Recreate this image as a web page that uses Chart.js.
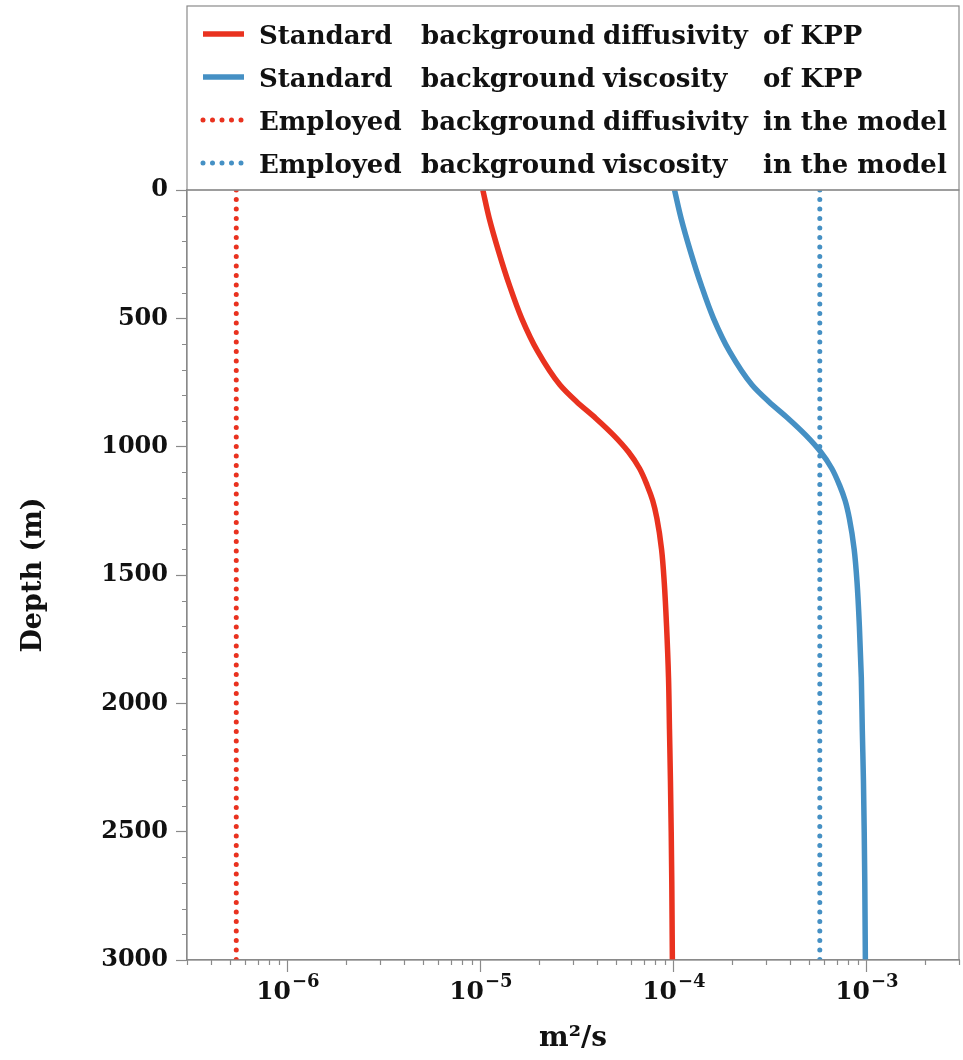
<!DOCTYPE html>
<html>
<head>
<meta charset="utf-8">
<script src="https://cdn.jsdelivr.net/npm/chart.js@4.4.0/dist/chart.umd.min.js"></script>
<style>
  html, body { margin: 0; padding: 0; background: #fff; }
  canvas { display: block; }
</style>
</head>
<body>
<canvas id="chart" width="963" height="1060"></canvas>
<script>
// depth (m) and background profiles
const DEPTH = [0, 110, 240, 370, 500, 630, 760, 825, 890, 955, 1020, 1085, 1150, 1210, 1280, 1400, 1530, 1700, 1900, 2100, 2300, 2500, 2700, 2900, 3000];
const KPP_DIFF = [1.023e-5, 1.104e-5, 1.236e-5, 1.403e-5, 1.626e-5, 1.972e-5, 2.570e-5, 3.133e-5, 3.945e-5, 4.864e-5, 5.808e-5, 6.637e-5, 7.261e-5, 7.762e-5, 8.166e-5, 8.630e-5, 8.913e-5, 9.162e-5, 9.376e-5, 9.484e-5, 9.594e-5, 9.683e-5, 9.750e-5, 9.795e-5, 9.817e-5];
const KPP_VISC = [1.007e-4, 1.089e-4, 1.219e-4, 1.384e-4, 1.603e-4, 1.945e-4, 2.541e-4, 3.105e-4, 3.908e-4, 4.820e-4, 5.754e-4, 6.577e-4, 7.211e-4, 7.709e-4, 8.110e-4, 8.590e-4, 8.892e-4, 9.141e-4, 9.354e-4, 9.462e-4, 9.594e-4, 9.683e-4, 9.750e-4, 9.795e-4, 9.817e-4];
const MODEL_DEPTH = [0, 3000];
const MODEL_DIFF = [5.4e-7, 5.4e-7];
const MODEL_VISC = [5.7e-4, 5.7e-4];

const Y_TICKS = [0, 500, 1000, 1500, 2000, 2500, 3000];
const X_TICKS = [1e-6, 1e-5, 1e-4, 1e-3];
const X_EXP = ["\u22126", "\u22125", "\u22124", "\u22123"];
const LEGEND_WORDS = [
  ["Standard", "background", "diffusivity", "of KPP"],
  ["Standard", "background", "viscosity", "of KPP"],
  ["Employed", "background", "diffusivity", "in the model"],
  ["Employed", "background", "viscosity", "in the model"],
];

const RED = "#e9321f";
const BLUE = "#4590c4";
const AXIS = "#8a8a8a";
const FONT = '"DejaVu Serif", "Liberation Serif", serif';

const pts = (xs, ys) => xs.map((x, i) => ({ x, y: ys[i] }));

// frame, minor ticks, 10^n labels and the boxed legend above the plot
const decorations = {
  id: "decorations",
  afterDraw(chart) {
    const { ctx, chartArea: { left, right, top, bottom } } = chart;
    const xs = chart.scales.x, ys = chart.scales.y;
    ctx.save();
    ctx.strokeStyle = AXIS;
    ctx.lineWidth = 1.2;
    ctx.strokeRect(left, top, right - left, bottom - top);

    ctx.beginPath();
    for (let v = 100; v < 3000; v += 100) {
      if (v % 500 === 0) continue;
      const py = Math.round(ys.getPixelForValue(v)) + 0.5;
      ctx.moveTo(left - 5, py); ctx.lineTo(left, py);
    }
    for (let n = -7; n <= -3; n++) {
      for (let k = 2; k <= 9; k++) {
        const v = k * Math.pow(10, n);
        if (v < xs.min || v > xs.max) continue;
        const px = Math.round(xs.getPixelForValue(v)) + 0.5;
        ctx.moveTo(px, bottom); ctx.lineTo(px, bottom + 5);
      }
    }
    ctx.stroke();

    // x tick labels as 10 with raised exponent
    ctx.fillStyle = "#111";
    ctx.textAlign = "left";
    ctx.textBaseline = "alphabetic";
    X_TICKS.forEach((v, i) => {
      const px = xs.getPixelForValue(v);
      ctx.font = "bold 25px " + FONT;
      const wb = ctx.measureText("10").width;
      ctx.font = "bold 18px " + FONT;
      const we = ctx.measureText(X_EXP[i]).width;
      const x0 = px - (wb + we + 1) / 2;
      ctx.font = "bold 25px " + FONT;
      ctx.fillText("10", x0, 999);
      ctx.font = "bold 18px " + FONT;
      ctx.fillText(X_EXP[i], x0 + wb + 1, 987);
    });

    // legend box
    ctx.strokeStyle = AXIS;
    ctx.lineWidth = 1.2;
    ctx.strokeRect(left, 6, right - left, top - 6);
    const cols = [72, 234, 416, 576];
    chart.data.datasets.forEach((ds, i) => {
      const y = 34 + i * 43;
      ctx.strokeStyle = ds.borderColor;
      ctx.lineWidth = ds.borderWidth;
      ctx.lineCap = ds.borderCapStyle || "butt";
      ctx.setLineDash(ds.borderDash || []);
      ctx.beginPath();
      ctx.moveTo(left + 16, y); ctx.lineTo(left + 57, y);
      ctx.stroke();
      ctx.setLineDash([]);
      ctx.fillStyle = "#111";
      ctx.font = "bold 26px " + FONT;
      LEGEND_WORDS[i].forEach((w, j) => ctx.fillText(w, left + cols[j], y + 10));
    });
    ctx.restore();
  }
};

new Chart(document.getElementById("chart"), {
  type: "line",
  data: {
    datasets: [
      { label: LEGEND_WORDS[0].join(" "), data: pts(KPP_DIFF, DEPTH), borderColor: RED, borderWidth: 5.5, tension: 0.4, cubicInterpolationMode: "monotone" },
      { label: LEGEND_WORDS[1].join(" "), data: pts(KPP_VISC, DEPTH), borderColor: BLUE, borderWidth: 5.5, tension: 0.4, cubicInterpolationMode: "monotone" },
      { label: LEGEND_WORDS[2].join(" "), data: pts(MODEL_DIFF, MODEL_DEPTH), borderColor: RED, borderWidth: 5, borderDash: [0, 9.5], borderCapStyle: "round" },
      { label: LEGEND_WORDS[3].join(" "), data: pts(MODEL_VISC, MODEL_DEPTH), borderColor: BLUE, borderWidth: 5, borderDash: [0, 9.5], borderCapStyle: "round" },
    ]
  },
  options: {
    responsive: false,
    animation: false,
    clip: 0,
    indexAxis: "y",
    elements: { point: { radius: 0, hoverRadius: 0 } },
    layout: { padding: { top: 190, right: 4, left: 0, bottom: 0 } },
    plugins: { legend: { display: false }, tooltip: { enabled: false } },
    scales: {
      x: {
        type: "logarithmic",
        min: 3e-7,
        max: 3e-3,
        afterBuildTicks: s => { s.ticks = X_TICKS.map(v => ({ value: v })); },
        afterFit: s => { s.height = 100; },
        ticks: { display: false },
        grid: { drawOnChartArea: false, tickLength: 12, tickColor: AXIS, tickWidth: 1.2 },
        border: { color: AXIS, width: 1.2 },
        title: { display: true, text: "m\u00B2/s", color: "#111", font: { family: FONT, size: 28, weight: "bold" }, padding: { top: 0, bottom: 4 } },
      },
      y: {
        type: "linear",
        reverse: true,
        min: 0,
        max: 3000,
        afterBuildTicks: s => { s.ticks = Y_TICKS.map(v => ({ value: v })); },
        afterFit: s => { s.width = 187; },
        ticks: {
          callback: v => String(v),
          color: "#111",
          font: { family: FONT, size: 24, weight: "bold" },
          padding: 8,
        },
        grid: { drawOnChartArea: false, tickLength: 11, tickColor: AXIS, tickWidth: 1.2 },
        border: { color: AXIS, width: 1.2 },
        title: { display: true, text: "Depth (m)", color: "#111", font: { family: FONT, size: 27, weight: "bold" }, padding: { top: 18, bottom: 0 } },
      }
    }
  },
  plugins: [decorations]
});
</script>
</body>
</html>
